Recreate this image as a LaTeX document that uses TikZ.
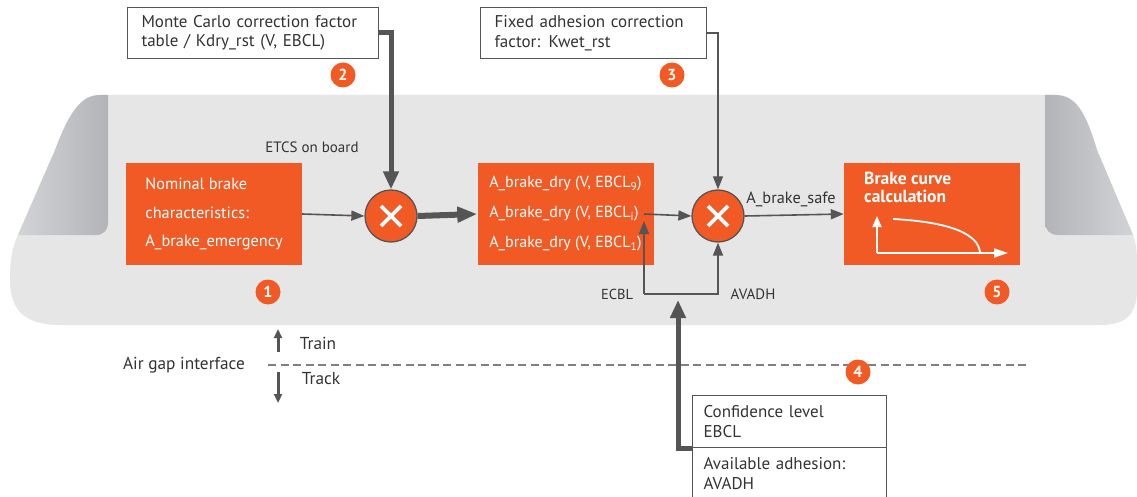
\documentclass[tikz,border=0pt]{standalone}
\usepackage{fontspec}
\setmainfont{PT Sans}
\usetikzlibrary{arrows.meta,calc}
\definecolor{orng}{HTML}{F15A24}
\definecolor{dgrey}{HTML}{555555}
\definecolor{bodyg}{HTML}{E6E6E6}
\definecolor{winA}{HTML}{B3B4B8}
\definecolor{winB}{HTML}{D2D3D6}
\definecolor{txt}{HTML}{333333}
\begin{document}
\begin{tikzpicture}[x=1pt,y=-1pt,
  font=\fontsize{15}{19}\selectfont,
  obox/.style={fill=orng, draw=none, text=white, minimum width=176pt, minimum height=101pt, inner sep=0pt, align=left},
  wbox/.style={draw=dgrey, line width=1pt, fill=white, anchor=north west, minimum height=51pt,
     inner xsep=14pt, inner ysep=0pt, align=left, text width=#1, text=txt, font=\fontsize{17}{19.5}\selectfont},
  mult/.style={circle, fill=orng, draw=dgrey, line width=1.3pt, minimum size=52pt, inner sep=0pt,
     path picture={\draw[white, line width=3.8pt] (path picture bounding box.center) ++(-10pt,-10pt) -- ++(20pt,20pt)
       (path picture bounding box.center) ++(-10pt,10pt) -- ++(20pt,-20pt);}},
  badge/.style={circle, fill=orng, text=white, font=\fontsize{16}{16}\selectfont\bfseries, minimum size=25pt, inner sep=0pt},
  thinarr/.style={draw=dgrey, line width=1.6pt, -{Triangle[length=13pt,width=10pt]}},
  thickarr/.style={draw=dgrey, line width=5pt, -{Triangle[length=18pt,width=15pt]}},
  gaparr/.style={draw=dgrey, line width=3pt, -{Triangle[length=9pt,width=8pt]}},
  lbl/.style={text=txt, inner sep=0pt}]
\clip (0,0) rectangle (1137,497);
\fill[white] (0,0) rectangle (1137,497);

% train body
\fill[bodyg] (100,95) -- (1055,95) .. controls (1075,95) and (1085,110) .. (1097,150) -- (1133,235)
  .. controls (1137,245) and (1137,255) .. (1137,270) -- (1137,290) .. controls (1137,315) and (1125,325) .. (1100,325)
  -- (60,325) .. controls (25,325) and (10,310) .. (10,280) .. controls (10,260) and (12,248) .. (18,235)
  -- (55,150) .. controls (70,110) and (82,95) .. (100,95) -- cycle;
% windows
\shade[left color=winB, right color=winA] (108,95) -- (108,222) .. controls (108,230) and (104,235) .. (96,235) -- (18,235)
  -- (55,150) .. controls (70,110) and (82,95) .. (100,95) -- cycle;
\shade[left color=winA, right color=winB] (1045,95) -- (1055,95) .. controls (1075,95) and (1085,110) .. (1097,150) -- (1133,235)
  -- (1058,235) .. controls (1050,235) and (1045,230) .. (1045,222) -- cycle;

% top boxes
\node[wbox=223pt] (mc) at (127,7) {Monte Carlo correction factor\\table / Kdry\_rst (V, EBCL)};
\node[wbox=198pt] (fa) at (480,7) {Fixed adhesion correction\\factor: Kwet\_rst};

% main nodes
\node[obox, font=\fontsize{16.3}{28.5}\selectfont] (nb) at (214,214) {Nominal brake\\characteristics:\\A\_brake\_emergency};
\node[mult] (m1) at (391,216) {};
\node[obox, font=\fontsize{16}{30}\selectfont] (bd) at (565.5,214) {A\_brake\_dry (V, EBCL\textsubscript{9})\\A\_brake\_dry (V, EBCL\textsubscript{i})\\A\_brake\_dry (V, EBCL\textsubscript{1})};
\node[mult] (m2) at (718,216) {};
\node[obox] (bc) at (932,214) {};
\node[anchor=north west, inner sep=0pt, text=white, align=left, font=\fontsize{17.5}{17.5}\selectfont\bfseries] (bct) at (864,172) {Brake curve\\calculation};

% graph in brake curve box
\coordinate (ax0) at (877,253);
\coordinate (axy) at (877,216);
\coordinate (axx) at (1008,253);
\draw[white, line width=1.8pt, -{Triangle[length=11pt,width=9pt]}] (ax0) -- (axy);
\draw[white, line width=1.8pt, -{Triangle[length=14pt,width=9pt]}] (ax0) -- (axx);
\draw[white, line width=1.8pt] (893,219) .. controls (950,222) and (979,234) .. (980,253);

% labels
\node[lbl] (etcs) at (312,147) {ETCS on board};
\node[lbl, font=\fontsize{16.3}{19}\selectfont] (safe) at (791,199) {A\_brake\_safe};
\node[lbl, font=\fontsize{14.5}{19}\selectfont] (ecbl) at (617,294) {ECBL};
\node[lbl] (avadh) at (753,294) {AVADH};

% connectors
\draw[thickarr] (mc.east) -| (m1.north);
\draw[thinarr, line width=1.3pt] (fa.east) -| (m2.north);
\draw[thinarr] (nb.east) -- (m1.west);
\draw[thickarr, line width=6pt, -{Triangle[length=20pt,width=15pt]}] (m1.east) -- (bd.west);
\coordinate (tap) at (644,214);
\coordinate (bl) at (644,294);
\coordinate (tapup) at (644,221);
\draw[thinarr] (tap) -- (m2.west);
\draw[thinarr] (bl) -- (tapup);
\draw[thinarr] (bl) -| (m2.south);
\draw[thinarr] (m2.east) -- (bc.west);

% air gap
\draw[draw=gray, line width=1.5pt, dash pattern=on 8pt off 4.5pt] (268,365) -- (1027,365);
\node[lbl, font=\fontsize{17.3}{19}\selectfont] (agi) at (184,365) {Air gap interface};
\coordinate (agu) at (278,352);
\coordinate (agut) at (278,329);
\coordinate (agd) at (278,372);
\coordinate (agdt) at (278,403);
\draw[gaparr] (agu) -- (agut);
\draw[gaparr] (agd) -- (agdt);
\node[lbl, font=\fontsize{17.3}{19}\selectfont] (train) at (318,343) {Train};
\node[lbl, font=\fontsize{17.3}{19}\selectfont] (track) at (321,379) {Track};

% bottom boxes
\node[wbox=172pt, minimum height=52pt, inner xsep=11pt] (cl) at (692,395) {Confidence level\\EBCL};
\node[wbox=172pt, minimum height=52pt, inner xsep=11pt] (aa) at (692,447) {Available adhesion:\\AVADH};
\coordinate (tip4) at (678,300);
\draw[thickarr] (cl.south west) -| (tip4);

% badges
\node[badge] (b1) at (268,292) {1};
\node[badge] (b2) at (343,75) {2};
\node[badge] (b3) at (672,75) {3};
\node[badge] (b4) at (858,372) {4};
\node[badge] (b5) at (997,292) {5};
\end{tikzpicture}
\end{document}
